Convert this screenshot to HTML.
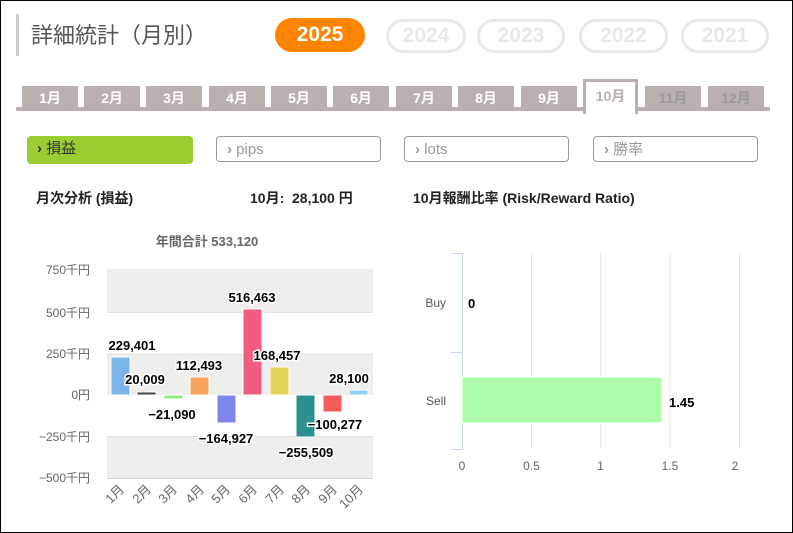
<!DOCTYPE html><html><head><meta charset="utf-8"><style>
body{margin:0;width:793px;height:533px;overflow:hidden;background:#fff;font-family:"Liberation Sans","Noto Sans CJK JP",sans-serif}
.f{position:absolute;left:0;top:0;width:791px;height:531px;border:1px solid #000}
.a{position:absolute}
.pill{position:absolute;top:19px;height:28px;border:3px solid #e8e8e8;border-radius:17px;color:#e8e8e8;font-weight:bold;font-size:21px;text-align:center;line-height:28px}
.tab{position:absolute;top:86px;width:56px;height:23px;background:#bab0ae;color:#fff;font-weight:bold;font-size:14px;text-align:center;line-height:25px}
.btn{position:absolute;top:136px;height:26px;width:165px;border:1px solid #999;border-radius:4px;color:#999;font-size:15px;line-height:25px;box-sizing:border-box;padding-left:10px}
.btn b{color:#999}
</style></head><body><div class="f"></div>
<div class="a" style="left:16px;top:14px;width:3px;height:42px;background:#ccc"></div>
<div class="a" style="left:31px;top:18px;font-size:22px;color:#555">詳細統計（月別）</div>
<div class="pill" style="left:275px;width:90px;top:18px;height:34px;border:none;background:#ff8400;color:#fff;line-height:34px">2025</div>
<div class="pill" style="left:386px;width:74px">2024</div>
<div class="pill" style="left:477px;width:82px">2023</div>
<div class="pill" style="left:579px;width:83px">2022</div>
<div class="pill" style="left:681px;width:82px">2021</div>
<div class="a" style="left:16px;top:107px;width:754px;height:4px;background:#bab0ae"></div>
<div class="tab" style="left:22px">1月</div><div class="tab" style="left:84px">2月</div><div class="tab" style="left:146px">3月</div><div class="tab" style="left:209px">4月</div><div class="tab" style="left:271px">5月</div><div class="tab" style="left:333px">6月</div><div class="tab" style="left:396px">7月</div><div class="tab" style="left:458px">8月</div><div class="tab" style="left:521px">9月</div>
<div class="tab" style="left:583px;top:79px;height:32px;width:49px;background:#fff;border:3px solid #bab0ae;border-bottom:none;color:#bab0ae;line-height:28px">10月</div>
<div class="tab" style="left:645px;color:#999">11月</div><div class="tab" style="left:708px;color:#999">12月</div>
<div class="btn" style="left:27px;border:none;background:#9acd32;color:#333;width:166px;height:28px;line-height:26px"><b style="color:#333">›</b> 損益</div>
<div class="btn" style="left:216px"><b>›</b> pips</div><div class="btn" style="left:404px"><b>›</b> lots</div><div class="btn" style="left:593px"><b>›</b> 勝率</div>
<div class="a" style="left:36px;top:188px;font-size:14px;font-weight:bold;color:#222">月次分析 (損益)</div>
<div class="a" style="left:250px;top:188px;font-size:14px;font-weight:bold;color:#222">10月:&nbsp; 28,100 円</div>
<div class="a" style="left:413px;top:188px;font-size:14px;font-weight:bold;color:#222">10月報酬比率 (Risk/Reward Ratio)</div>
<svg class="a" style="left:0;top:0" width="793" height="533" font-family="Liberation Sans,Noto Sans CJK JP,sans-serif">
<text x="207" y="246" font-size="13" font-weight="bold" fill="#666" text-anchor="middle">年間合計 533,120</text>
<rect x="107" y="269" width="266" height="43.5" fill="#eeeeec"/><rect x="107" y="354" width="266" height="41" fill="#eeeeec"/><rect x="107" y="436.5" width="266" height="41.5" fill="#eeeeec"/>
<g stroke="#e2e2e2"><line x1="107" x2="373" y1="312.5" y2="312.5"/><line x1="107" x2="373" y1="354" y2="354"/><line x1="107" x2="373" y1="436.5" y2="436.5"/></g>
<line x1="107" x2="373" y1="478.5" y2="478.5" stroke="#ccd6eb"/>
<g font-size="12" fill="#666" text-anchor="end"><text x="90" y="274">750千円</text><text x="90" y="317">500千円</text><text x="90" y="358">250千円</text><text x="90" y="399">0円</text><text x="90" y="441">−250千円</text><text x="90" y="482">−500千円</text></g>
<g stroke="#fff" stroke-width="1">
<rect x="111" y="357" width="19" height="38" fill="#7cb5ec"/>
<rect x="137" y="392" width="19" height="3" fill="#434348"/>
<rect x="164" y="395" width="19" height="4" fill="#90ed7d"/>
<rect x="190" y="377" width="19" height="18" fill="#f7a35c"/>
<rect x="217" y="395" width="19" height="28" fill="#8085e9"/>
<rect x="243" y="309" width="19" height="86" fill="#f15c80"/>
<rect x="270" y="367" width="19" height="28" fill="#e4d354"/>
<rect x="296" y="395" width="19" height="42" fill="#2b908f"/>
<rect x="323" y="395" width="19" height="17" fill="#f45b5b"/>
<rect x="349" y="390" width="19" height="5" fill="#8fd3f0"/>
</g>
<g font-size="13" font-weight="bold" fill="#000" text-anchor="middle" stroke="#fff" stroke-width="3" paint-order="stroke">
<text x="132" y="350">229,401</text><text x="145" y="384">20,009</text><text x="172" y="419">−21,090</text><text x="199" y="370">112,493</text><text x="226" y="443">−164,927</text><text x="252" y="302">516,463</text><text x="277" y="360">168,457</text><text x="306" y="457">−255,509</text><text x="335" y="429">−100,277</text><text x="349" y="383">28,100</text>
</g>
<g font-size="13" fill="#666" text-anchor="end">
<text transform="translate(125,490) rotate(-45)">1月</text><text transform="translate(152,490) rotate(-45)">2月</text><text transform="translate(178,490) rotate(-45)">3月</text><text transform="translate(205,490) rotate(-45)">4月</text><text transform="translate(231,490) rotate(-45)">5月</text><text transform="translate(258,490) rotate(-45)">6月</text><text transform="translate(285,490) rotate(-45)">7月</text><text transform="translate(311,490) rotate(-45)">8月</text><text transform="translate(338,490) rotate(-45)">9月</text><text transform="translate(364,490) rotate(-45)">10月</text>
</g>
<g stroke="#e6e6e6"><line x1="531.5" x2="531.5" y1="253" y2="449"/><line x1="600.5" x2="600.5" y1="253" y2="449"/><line x1="670" x2="670" y1="253" y2="449"/><line x1="739.5" x2="739.5" y1="253" y2="449"/></g>
<g stroke="#ccd6eb" fill="none"><path d="M451 253.5H462.5V449.5H451M451 352.5H462"/></g>
<rect x="462" y="377" width="200" height="46" fill="#adfdad" stroke="#fff"/>
<g font-size="12" fill="#555" text-anchor="end"><text x="446" y="307">Buy</text><text x="446" y="405">Sell</text></g>
<g font-size="13" font-weight="bold" fill="#000"><text x="468" y="308">0</text><text x="669" y="407">1.45</text></g>
<g font-size="12" fill="#666" text-anchor="middle"><text x="462" y="470">0</text><text x="531.5" y="470">0.5</text><text x="600.5" y="470">1</text><text x="670" y="470">1.5</text><text x="735" y="470">2</text></g>
</svg></body></html>
